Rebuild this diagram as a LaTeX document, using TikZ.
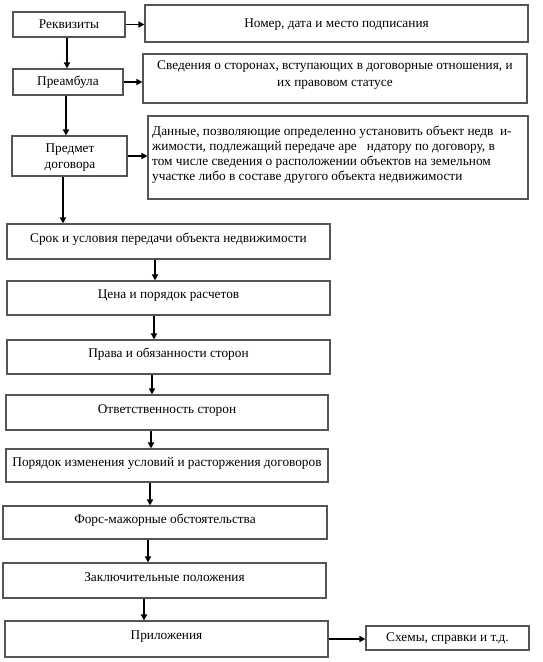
\documentclass[tikz,border=0pt]{standalone}
\usepackage{fontspec}
\setmainfont{Liberation Serif}
\usetikzlibrary{arrows.meta}
\definecolor{boxgray}{RGB}{85,85,85}
\begin{document}
\begin{tikzpicture}[x=1pt,y=-1pt,
  box/.style={draw=boxgray, line width=1.1pt, rectangle, inner sep=0pt, font=\fontsize{13.3}{16}\selectfont},
  onel/.style={text height=8pt, text depth=7pt},
  mid/.style={text height=9pt, text depth=2pt},
  txt/.style={inner sep=0pt, font=\fontsize{13.3}{15}\selectfont},
  arr/.style={-{Triangle[length=6pt,width=6pt]}, line width=1.5pt, black}]
\fill[white] (0,0) rectangle (543,662);
\useasboundingbox (0,0) rectangle (543,662);
% column coordinates for vertical connectors
\coordinate (c67) at (67,0);
\coordinate (c66) at (66,0);
\coordinate (c63) at (63,0);
\coordinate (c155) at (155,0);
\coordinate (c154) at (154,0);
\coordinate (c152) at (152,0);
\coordinate (c151) at (151,0);
\coordinate (c150) at (150,0);
\coordinate (c148) at (148,0);
\coordinate (c144) at (144,0);
% top part
\node[box, mid, minimum width=112pt, minimum height=25pt] (rek) at (69,24.5) {Реквизиты};
\node[box, text height=9pt, text depth=1pt, minimum width=383pt, minimum height=37pt] (nomer) at (336.5,23.5) {Номер, дата и место подписания};
\node[box, mid, minimum width=110pt, minimum height=26pt] (pream) at (68,82) {Преамбула};
\node[box, minimum width=384pt, minimum height=49pt] (sved) at (335,78.5) {};
\node[txt, align=center, font=\fontsize{13.3}{17.5}\selectfont] (svedtext) at (335,75) {Сведения о сторонах, вступающих в договорные отношения, и\\их правовом статусе};
\node[box, minimum width=115pt, minimum height=40pt] (predmet) at (69.5,156) {};
\node[txt, align=center, font=\fontsize{13.3}{16}\selectfont] (predmettext) at (70,158) {Предмет\\договора};
\node[box, minimum width=380pt, minimum height=83pt] (dannye) at (338,157.5) {};
\node[txt, align=left, anchor=north west] (dannyetext) at (152,126) {Данные, позволяющие определенно установить объект недв\ \ и-\\жимости, подлежащий передаче аре\hspace{10pt}ндатору по договору, в\\том числе сведения о расположении объектов на земельном\\участке либо в составе другого объекта недвижимости};
% main column
\node[box, onel, minimum width=323pt, minimum height=35pt] (srok) at (168.5,241.5) {Срок и условия передачи объекта недвижимости};
\node[box, onel, minimum width=323pt, minimum height=34pt] (cena) at (168.5,298) {Цена и порядок расчетов};
\node[box, onel, minimum width=323pt, minimum height=34pt] (prava) at (168.5,357) {Права и обязанности сторон};
\node[box, onel, minimum width=322pt, minimum height=35pt] (otv) at (167,412.5) {Ответственность сторон};
\node[box, onel, minimum width=322pt, minimum height=33pt] (poryadok) at (167,465.5) {Порядок изменения условий и расторжения договоров};
\node[box, onel, minimum width=324pt, minimum height=33pt] (fors) at (165,522.5) {Форс-мажорные обстоятельства};
\node[box, onel, minimum width=323pt, minimum height=35pt] (zakl) at (164.5,580.5) {Заключительные положения};
\node[box, onel, minimum width=323pt, minimum height=36pt] (pril) at (166.5,639) {Приложения};
\node[box, mid, minimum width=163pt, minimum height=24pt] (shemy) at (447.5,638) {Схемы, справки и т.д.};
% connectors
\draw[arr] (rek.east) -- (rek.east -| nomer.west);
\draw[arr] (pream.east) -- (pream.east -| sved.west);
\draw[arr] (predmet.east) -- (predmet.east -| dannye.west);
\draw[arr] (rek.south -| c67) -- (pream.north -| c67);
\draw[arr] (pream.south -| c66) -- (predmet.north -| c66);
\draw[arr] (predmet.south -| c63) -- (srok.north -| c63);
\draw[arr] (srok.south -| c155) -- (cena.north -| c155);
\draw[arr] (cena.south -| c154) -- (prava.north -| c154);
\draw[arr] (prava.south -| c152) -- (otv.north -| c152);
\draw[arr] (otv.south -| c151) -- (poryadok.north -| c151);
\draw[arr] (poryadok.south -| c150) -- (fors.north -| c150);
\draw[arr] (fors.south -| c148) -- (zakl.north -| c148);
\draw[arr] (zakl.south -| c144) -- (pril.north -| c144);
\draw[arr] (pril.east) -- (pril.east -| shemy.west);
\end{tikzpicture}
\end{document}
